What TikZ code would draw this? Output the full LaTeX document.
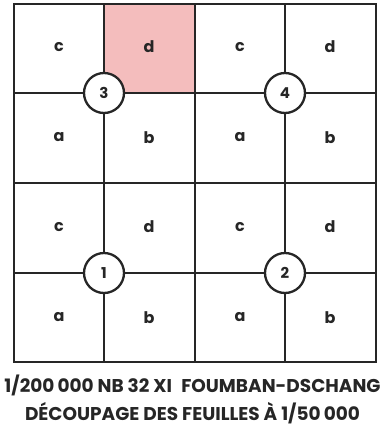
\documentclass[tikz,border=0pt]{standalone}
\usepackage{fontspec}
\setmainfont{Poppins}
\usepackage{tikz}
\definecolor{lightpink}{HTML}{F4BDBD}

\begin{document}
\begin{tikzpicture}[x=1pt,y=-1pt,
  grid/.style={line width=2.3pt,draw=black!85},
  cell/.style={font=\bfseries\fontsize{16}{18}\selectfont,text=black!85},
  sheet/.style={circle,draw=black!85,line width=2.3pt,fill=white,minimum size=40pt,inner sep=0pt,font=\bfseries\fontsize{15}{16}\selectfont,text=black!85},
  caption/.style={align=center,text=black!85,font=\bfseries\fontsize{18.5}{28}\selectfont}
]
\useasboundingbox (0,0) rectangle (385,429);
% shaded sheet
\fill[lightpink] (104,4) rectangle (195,93);
% grid
\draw[grid] (14,4) rectangle (376,362);
\draw[grid] (104,4) -- (104,362);
\draw[grid] (195,4) -- (195,362);
\draw[grid] (285,4) -- (285,362);
\draw[grid] (14,93) -- (376,93);
\draw[grid] (14,183) -- (376,183);
\draw[grid] (14,273) -- (376,273);
% sheet letters
\node[cell] (c3) at (59,47) {c};
\node[cell] (d3) at (149,47) {d};
\node[cell] (a3) at (59,137) {a};
\node[cell] (b3) at (149,138) {b};
\node[cell] (c4) at (240,47) {c};
\node[cell] (d4) at (330,47) {d};
\node[cell] (a4) at (240,137) {a};
\node[cell] (b4) at (330,138) {b};
\node[cell] (c1) at (59,227) {c};
\node[cell] (d1) at (149,227) {d};
\node[cell] (a1) at (59,317) {a};
\node[cell] (b1) at (149,318) {b};
\node[cell] (c2) at (240,227) {c};
\node[cell] (d2) at (330,227) {d};
\node[cell] (a2) at (240,317) {a};
\node[cell] (b2) at (330,318) {b};
% sheet numbers
\node[sheet] (n3) at (104,93) {3};
\node[sheet] (n4) at (285,93) {4};
\node[sheet] (n1) at (104,273) {1};
\node[sheet] (n2) at (285,273) {2};
% caption
\node[caption] (title) at (192.5,399) {1/200\,000 NB 32 XI\enspace FOUMBAN-DSCHANG\\DÉCOUPAGE DES FEUILLES À 1/50\,000};
\end{tikzpicture}
\end{document}
